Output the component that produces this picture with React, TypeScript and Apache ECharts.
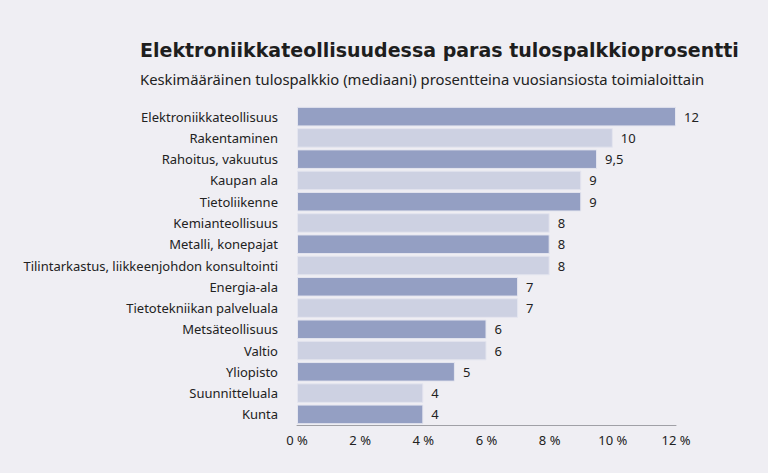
import React, { useEffect, useRef } from "react";
import * as echarts from "echarts";

const categories = [
  "Elektroniikkateollisuus",
  "Rakentaminen",
  "Rahoitus, vakuutus",
  "Kaupan ala",
  "Tietoliikenne",
  "Kemianteollisuus",
  "Metalli, konepajat",
  "Tilintarkastus, liikkeenjohdon konsultointi",
  "Energia-ala",
  "Tietotekniikan palveluala",
  "Metsäteollisuus",
  "Valtio",
  "Yliopisto",
  "Suunnitteluala",
  "Kunta",
];
const values = [12, 10, 9.5, 9, 9, 8, 8, 8, 7, 7, 6, 6, 5, 4, 4];
const title = "Elektroniikkateollisuudessa paras tulospalkkioprosentti";
const subtitle = "Keskimääräinen tulospalkkio (mediaani) prosentteina vuosiansiosta toimialoittain";

const DARK = "#949fc3";
const LIGHT = "#cdd1e2";

export default function App() {
  const ref = useRef<HTMLDivElement>(null);
  useEffect(() => {
    if (!ref.current) return;
    const chart = echarts.init(ref.current, null, { renderer: "svg" });
    chart.setOption({
      animation: false,
      backgroundColor: "#efeef3",
      title: [
        {
          text: title,
          left: 135,
          top: 35,
          textStyle: { fontFamily: "DejaVu Sans", fontWeight: "bold", fontSize: 19, color: "#1e1e1e" },
        },
        {
          text: subtitle,
          left: 135,
          top: 66,
          textStyle: { fontFamily: "Noto Sans", fontWeight: 400, fontSize: 14.8, color: "#222" },
        },
      ],
      grid: { left: 297, right: 92, top: 106, bottom: 48, containLabel: false },
      xAxis: {
        type: "value",
        min: 0,
        max: 12,
        interval: 2,
        splitLine: { show: false },
        axisLine: { show: true, lineStyle: { color: "#a0a0a6", width: 1 } },
        axisTick: { show: false },
        axisLabel: {
          formatter: (v: number) => `${v} %`,
          fontFamily: "Noto Sans",
          fontSize: 13,
          color: "#222",
          margin: 8,
        },
      },
      yAxis: {
        type: "category",
        data: categories,
        inverse: true,
        axisTick: { show: false },
        axisLine: { show: false },
        axisLabel: { fontFamily: "Noto Sans", fontSize: 13, color: "#222", margin: 19 },
      },
      series: [
        {
          type: "bar",
          data: values.map((v, i) => ({
            value: v,
            itemStyle: { color: i % 2 === 0 ? DARK : LIGHT },
          })),
          barCategoryGap: "8%",
          itemStyle: { borderColor: "#e4e5ef", borderWidth: 1 },
          label: {
            show: true,
            position: "right",
            distance: 8,
            fontFamily: "Noto Sans",
            fontSize: 13,
            color: "#222",
            formatter: (p: any) => String(p.value).replace(".", ","),
          },
        },
      ],
    });
    return () => chart.dispose();
  }, []);
  return (
    <div
      ref={ref}
      style={{ position: "absolute", left: 0, top: 0, width: 768, height: 473 }}
    />
  );
}
